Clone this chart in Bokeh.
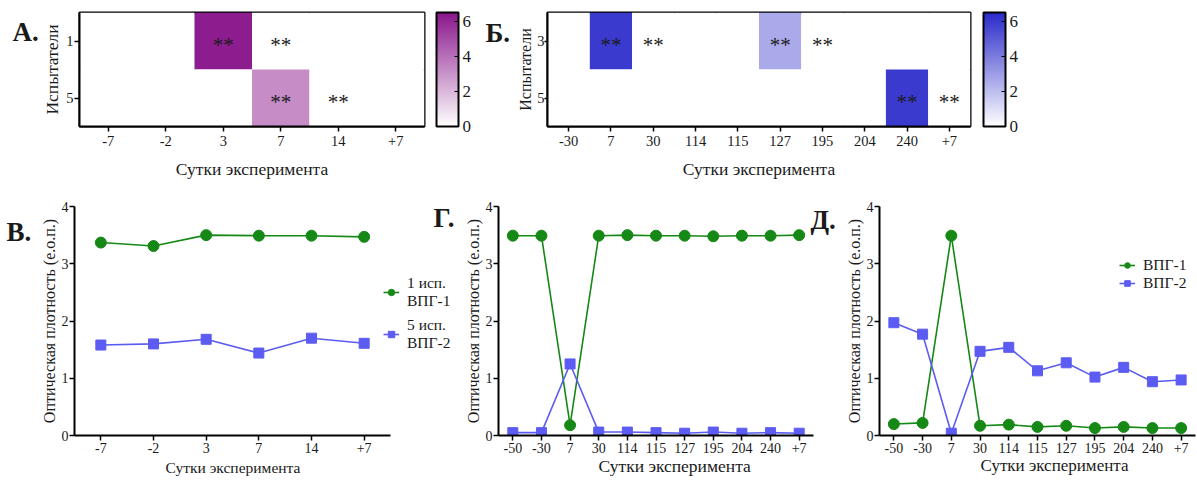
from bokeh.plotting import figure
from bokeh.models import (LinearColorMapper, ColorBar, FixedTicker, Label, Legend,
                          LegendItem, Range1d, FactorRange, ColumnDataSource, Title)
from bokeh.layouts import column, row
from bokeh.embed import file_html
from bokeh.resources import INLINE
from bokeh.core.properties import value
from bokeh.transform import transform

# ---------------- data ----------------
a_days = ["-7", "-2", "3", "7", "14", "+7"]
a_rows = ["1", "5"]
a_vals_row1 = [0, 0, 6.3, 0, 0, 0]
a_vals_row5 = [0, 0, 0, 3.2, 0, 0]
a_star_days = ["3", "7", "7", "14"]
a_star_rows = ["1", "1", "5", "5"]

b_days = ["-30", "7", "30", "114", "115", "127", "195", "204", "240", "+7"]
b_rows = ["3", "5"]
b_vals_row3 = [0, 6.0, 0, 0, 0, 2.6, 0, 0, 0, 0]
b_vals_row5 = [0, 0, 0, 0, 0, 0, 0, 0, 6.0, 0]
b_star_days = ["7", "30", "127", "195", "240", "+7"]
b_star_rows = ["3", "3", "3", "3", "5", "5"]

v_days = ["-7", "-2", "3", "7", "14", "+7"]
v_vpg1 = [3.37, 3.31, 3.50, 3.49, 3.49, 3.47]
v_vpg2 = [1.58, 1.60, 1.68, 1.44, 1.70, 1.61]

long_days = ["-50", "-30", "7", "30", "114", "115", "127", "195", "204", "240", "+7"]
g_vpg1 = [3.49, 3.49, 0.18, 3.49, 3.50, 3.49, 3.49, 3.48, 3.49, 3.49, 3.50]
g_vpg2 = [0.05, 0.05, 1.25, 0.06, 0.06, 0.05, 0.04, 0.06, 0.04, 0.05, 0.04]

d_vpg1 = [0.20, 0.22, 3.49, 0.17, 0.19, 0.15, 0.17, 0.13, 0.15, 0.13, 0.13]
d_vpg2 = [1.97, 1.77, 0.04, 1.47, 1.54, 1.13, 1.27, 1.02, 1.19, 0.94, 0.97]

heat_ticks = [0, 2, 4, 6]
line_ticks = [0, 1, 2, 3, 4]

# ---------------- style ----------------
SERIF = "Liberation Serif"
GREEN = "#168816"
BLUE = "#5c5cf2"
PURPLE = "#8a168c"
DBLUE = "#2a2acb"
TXT = "#1a1a1a"


def ramp(c, n=256):
    r, g, b = int(c[1:3], 16), int(c[3:5], 16), int(c[5:7], 16)
    out = []
    for i in range(n):
        t = i / (n - 1)
        out.append("#%02x%02x%02x" % (round(255 + (r - 255) * t),
                                      round(255 + (g - 255) * t),
                                      round(255 + (b - 255) * t)))
    return out


def style_axes(p, tick_size, label_size):
    for ax in (p.xaxis[0], p.yaxis[0]):
        ax.axis_line_width = 2
        ax.axis_line_color = "black"
        ax.major_tick_line_color = "black"
        ax.major_tick_line_width = 1.5
        ax.major_tick_in = 0
        ax.major_tick_out = 5
        ax.minor_tick_line_color = None
        ax.major_label_text_font = SERIF
        ax.major_label_text_font_size = tick_size
        ax.major_label_text_color = TXT
        ax.axis_label_text_font = SERIF
        ax.axis_label_text_font_style = "normal"
        ax.axis_label_text_font_size = label_size
        ax.axis_label_text_color = TXT
        ax.major_label_standoff = 4
    p.grid.visible = False


def blank_fig(w, h, bl=0, bt=0, bb=0):
    p = figure(width=w, height=h, x_range=Range1d(0, w - bl),
               y_range=Range1d(h - bt - bb, 0),
               x_axis_type=None, y_axis_type=None, output_backend="svg",
               toolbar_location=None, min_border_left=bl, min_border_right=0,
               min_border_top=bt, min_border_bottom=bb, outline_line_color=None)
    p.grid.visible = False
    return p


def add_letter(p, text, x, y):
    p.text(x=[x], y=[y], text=[text], text_font=value(SERIF), text_font_style="bold",
           text_font_size="27px", text_baseline="middle", text_align="left",
           text_color=TXT)


def heatmap(days, rows, vals_rows, star_days, star_rows, color, width, bl, br):
    xs, ys, vs = [], [], []
    for r, vals in zip(rows, vals_rows):
        for d, v in zip(days, vals):
            xs.append(d)
            ys.append(r)
            vs.append(v)
    src = ColumnDataSource(dict(x=xs, y=ys, v=vs))
    mapper = LinearColorMapper(palette=ramp(color), low=0, high=6.5)
    p = figure(width=width, height=185, x_range=FactorRange(factors=days),
               y_range=FactorRange(factors=rows[::-1]), output_backend="svg",
               toolbar_location=None, min_border_left=bl, min_border_right=br,
               min_border_top=12, min_border_bottom=59)
    p.rect(x="x", y="y", width=1, height=1, source=src,
           fill_color=transform("v", mapper), line_color=None)
    p.text(x=star_days, y=star_rows, text=["**"] * len(star_days),
           text_font=value(SERIF), text_font_size="21px", text_align="center",
           text_baseline="middle", y_offset=4, text_color=TXT)
    style_axes(p, "14.5px", "17.5px")
    p.xaxis.axis_label = "Сутки эксперимента"
    p.yaxis.axis_label = "Испытатели"
    p.xaxis.axis_label_standoff = 10
    p.outline_line_color = "black"
    p.outline_line_width = 2
    p.outline_line_alpha = 1
    return p, mapper


def colorbar_fig(w, mapper, bar_x):
    p = blank_fig(w, 185, bl=bar_x, bt=12, bb=59)
    cb = ColorBar(color_mapper=mapper, ticker=FixedTicker(ticks=heat_ticks),
                  width=22, height=114, padding=0, margin=0, location="top_left",
                  bar_line_color="black", bar_line_width=2,
                  major_tick_line_color="black", major_tick_in=4, major_tick_out=0,
                  major_label_text_font=SERIF, major_label_text_font_size="17px",
                  major_label_text_color=TXT, label_standoff=4,
                  border_line_color=None, background_fill_alpha=0)
    p.add_layout(cb)
    return p


# ---- top row ----
tA = blank_fig(39, 185)
add_letter(tA, "А.", 12, 31)

pa, map_a = heatmap(a_days, a_rows, [a_vals_row1, a_vals_row5], a_star_days,
                    a_star_rows, PURPLE, 387, 40, 2)
pa.yaxis.major_label_standoff = 1
pa.yaxis.axis_label_standoff = 1

cbA = colorbar_fig(84, map_a, 10)
add_letter(cbA, "Б.", 49, 20)

pb, map_b = heatmap(b_days, b_rows, [b_vals_row3, b_vals_row5], b_star_days,
                    b_star_rows, DBLUE, 462, 37, 2)
pb.yaxis.major_tick_out = 3
pb.yaxis.major_label_standoff = 0
pb.yaxis.axis_label_standoff = 0
pb.yaxis.axis_label_text_font_size = "16px"

cbB = colorbar_fig(58, map_b, 11)


# ---- bottom row ----
def linechart(days, s1, s2, width, bl, br, frame_w=None, data_w=None):
    n = len(days)
    xi = list(range(n))
    if frame_w is None:
        xr = Range1d(-0.5, n - 0.5)
    else:
        xr = Range1d(-0.5, -0.5 + n * frame_w / data_w)
    p = figure(width=width, height=297, x_range=xr, y_range=Range1d(0, 4),
               output_backend="svg", toolbar_location=None,
               min_border_left=bl, min_border_right=br, min_border_top=21,
               min_border_bottom=47)
    l1 = p.line(xi, s1, line_color=GREEN, line_width=1.6)
    m1 = p.scatter(xi, s1, marker="circle", size=11, fill_color=GREEN, line_color=GREEN)
    l2 = p.line(xi, s2, line_color=BLUE, line_width=1.6)
    m2 = p.scatter(xi, s2, marker="square", size=10, fill_color=BLUE, line_color=BLUE)
    style_axes(p, "14px", "16px")
    p.xaxis.ticker = FixedTicker(ticks=xi)
    p.xaxis.major_label_overrides = {i: d for i, d in zip(xi, days)}
    p.xaxis.bounds = (-0.5, n - 0.5)
    p.xaxis.major_label_standoff = 2
    p.yaxis.ticker = FixedTicker(ticks=line_ticks)
    p.yaxis.axis_label = "Оптическая плотность (е.о.п.)"
    p.yaxis.major_label_standoff = 1
    p.yaxis.axis_label_standoff = 1
    p.outline_line_color = None
    return p, (l1, m1), (l2, m2)


def add_xtitle(p, offset, size, standoff):
    p.add_layout(Title(text="Сутки эксперимента", align="left", offset=offset,
                       text_font=SERIF, text_font_size=size, text_font_style="normal",
                       text_color=TXT, standoff=standoff, vertical_align="top",
                       text_line_height=1.0), "below")


def add_label(p, text, x, y):
    p.add_layout(Label(x=x, y=y, x_units="screen", y_units="screen", text=text,
                       text_font=SERIF, text_font_style="bold", text_font_size="27px",
                       text_baseline="middle", text_align="left", text_color=TXT))


tV = blank_fig(31, 297)
add_letter(tV, "В.", 6, 33)

pv, v1, v2 = linechart(v_days, v_vpg1, v_vpg2, 425, 43, 0, frame_w=382, data_w=316)
add_xtitle(pv, 91, "15.5px", 6)
add_label(pv, "Г.", 359, 218)
leg_v = Legend(items=[LegendItem(label="1 исп.\nВПГ-1", renderers=list(v1)),
                      LegendItem(label="5 исп.\nВПГ-2", renderers=list(v2))],
               location=(309, 83), border_line_color=None, background_fill_alpha=0,
               label_text_font=SERIF, label_text_font_size="15.5px",
               label_text_color=TXT, glyph_width=16, glyph_height=16,
               spacing=6, padding=0, margin=0, label_standoff=8, label_height=36,
               label_text_line_height=1.05)
pv.add_layout(leg_v)

pg, g1, g2 = linechart(long_days, g_vpg1, g_vpg2, 381, 42, 0, frame_w=339, data_w=315)
add_xtitle(pg, 100, "17.5px", 0)
add_label(pg, "Д.", 312, 216)

pd_, d1, d2 = linechart(long_days, d_vpg1, d_vpg2, 360, 42, 2)
add_xtitle(pd_, 101, "17px", 0)
leg_d = Legend(items=[LegendItem(label="ВПГ-1", renderers=list(d1)),
                      LegendItem(label="ВПГ-2", renderers=list(d2))],
               location=(240, 143), border_line_color=None, background_fill_alpha=0,
               label_text_font=SERIF, label_text_font_size="15.5px",
               label_text_color=TXT, glyph_width=16, glyph_height=14,
               spacing=0, padding=0, margin=0, label_standoff=8, label_height=17)
pd_.add_layout(leg_d)

layout = column(row(tA, pa, cbA, pb, cbB), row(tV, pv, pg, pd_))

open("out.html", "w").write(file_html(layout, INLINE))
